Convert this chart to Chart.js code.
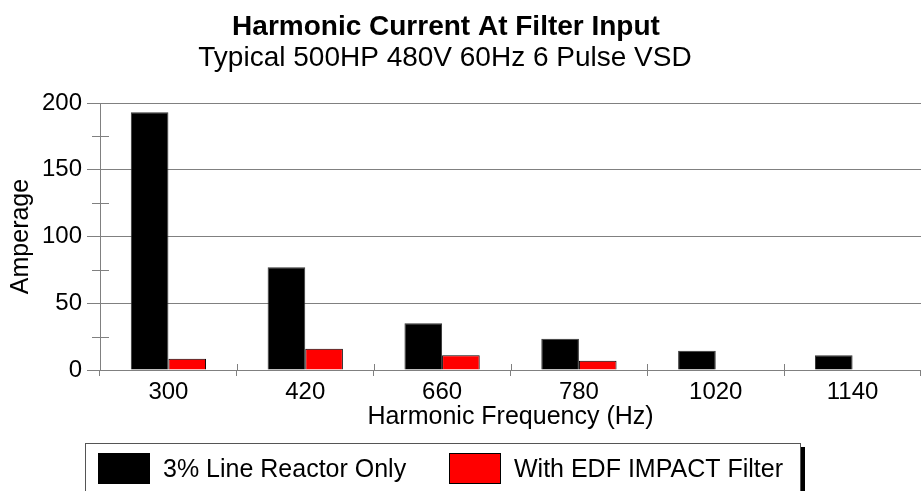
<!DOCTYPE html>
<html>
<head>
<meta charset="utf-8">
<script src="https://cdn.jsdelivr.net/npm/chart.js@4.4.1/dist/chart.umd.min.js"></script>
<style>
  html, body { margin: 0; padding: 0; background: #fff; }
  #wrap { width: 921px; height: 491px; }
</style>
</head>
<body>
<div id="wrap"><canvas id="Chart" width="921" height="491"></canvas></div>
<script>
let frequencies = ['300', '420', '660', '780', '1020', '1140'];
let reactorOnly = [193, 77, 35, 23.5, 14.5, 11];
let withFilter = [8.5, 16, 11, 7, 0, 0];
let yTicks = [0, 50, 100, 150, 200];
let yMinorTicks = [25, 75, 125, 175];
let seriesNames = ['3% Line Reactor Only', 'With EDF IMPACT Filter'];
let chartTitle = 'Harmonic Current At Filter Input';
let chartSubtitle = 'Typical 500HP 480V 60Hz 6 Pulse VSD';

let FONT = '"Liberation Sans", Arial, Helvetica, sans-serif';
let AXIS_GRAY = '#808080';

// titles, minor ticks and the boxed legend
let extras = {
    id: 'extras',
    afterDraw(chart) {
        let ctx = chart.ctx;
        let x = chart.scales.x;
        let y = chart.scales.y;
        ctx.save();

        // minor ticks on the y axis, crossing it
        ctx.strokeStyle = AXIS_GRAY;
        ctx.lineWidth = 1;
        ctx.beginPath();
        yMinorTicks.forEach(v => {
            let py = Math.round(y.getPixelForValue(v)) + 0.5;
            ctx.moveTo(x.left - 8, py);
            ctx.lineTo(x.left + 9, py);
        });
        // upper half of the category boundary ticks
        for (let i = 0; i <= frequencies.length; i++) {
            let px = Math.round(x.getPixelForValue(i - 0.5)) + 0.5;
            ctx.moveTo(px, y.bottom - 6);
            ctx.lineTo(px, y.bottom);
        }
        ctx.stroke();

        // title + subtitle
        ctx.fillStyle = '#000';
        ctx.textAlign = 'center';
        ctx.textBaseline = 'alphabetic';
        ctx.font = 'bold 28px ' + FONT;
        ctx.fillText(chartTitle, 446, 35);
        ctx.font = '28px ' + FONT;
        ctx.fillText(chartSubtitle, 445, 66);

        // legend box with shadow
        ctx.fillStyle = '#000';
        ctx.fillRect(800, 447, 5, 60);
        ctx.strokeStyle = '#555';
        ctx.strokeRect(85.5, 443.5, 715, 60);

        let itemX = [98, 449];
        ctx.font = '25px ' + FONT;
        ctx.textAlign = 'left';
        ctx.textBaseline = 'alphabetic';
        chart.data.datasets.forEach((ds, i) => {
            ctx.fillStyle = ds.backgroundColor;
            ctx.fillRect(itemX[i], 453, 52, 31);
            ctx.strokeStyle = '#000';
            ctx.strokeRect(itemX[i] + 0.5, 453.5, 51, 30);
            ctx.fillStyle = '#000';
            ctx.fillText(ds.label, itemX[i] + 65, 477);
        });
        ctx.restore();
    }
};

let ctx = document.getElementById('Chart').getContext('2d');

new Chart(ctx, {
    type: 'bar',
    data: {
        labels: frequencies,
        datasets: [{
            label: seriesNames[0],
            data: reactorOnly,
            backgroundColor: '#000000',
            borderColor: '#333333',
            borderWidth: 1
        }, {
            label: seriesNames[1],
            data: withFilter,
            backgroundColor: '#ff0000',
            borderColor: '#000000',
            borderWidth: 1
        }]
    },
    options: {
        responsive: false,
        animation: false,
        devicePixelRatio: 1,
        layout: { padding: { top: 103, right: 0, bottom: 55, left: 0 } },
        datasets: {
            bar: { categoryPercentage: 0.55, barPercentage: 1.0 }
        },
        plugins: {
            legend: { display: false },
            title: { display: false },
            tooltip: { enabled: false }
        },
        scales: {
            x: {
                afterFit: s => { s.height = 66; },
                grid: {
                    display: true,
                    offset: true,
                    drawOnChartArea: false,
                    drawTicks: true,
                    tickLength: 6,
                    color: AXIS_GRAY
                },
                border: { display: true, color: AXIS_GRAY },
                ticks: {
                    color: '#000',
                    padding: 2,
                    maxRotation: 0,
                    font: { family: FONT, size: 24 }
                },
                title: {
                    display: true,
                    text: 'Harmonic Frequency (Hz)',
                    color: '#000',
                    padding: { top: 0, bottom: 4 },
                    font: { family: FONT, size: 25 }
                }
            },
            y: {
                min: 0,
                max: 200,
                afterFit: s => { s.width = 100; },
                afterBuildTicks: s => { s.ticks = yTicks.map(v => ({ value: v })); },
                grid: {
                    color: AXIS_GRAY,
                    drawTicks: true,
                    tickLength: 13
                },
                border: { display: true, color: AXIS_GRAY },
                ticks: {
                    color: '#000',
                    padding: 5,
                    font: { family: FONT, size: 24 }
                },
                title: {
                    display: true,
                    text: 'Amperage',
                    color: '#000',
                    padding: { top: 6, bottom: 0 },
                    font: { family: FONT, size: 25 }
                }
            }
        }
    },
    plugins: [extras]
});
</script>
</body>
</html>
